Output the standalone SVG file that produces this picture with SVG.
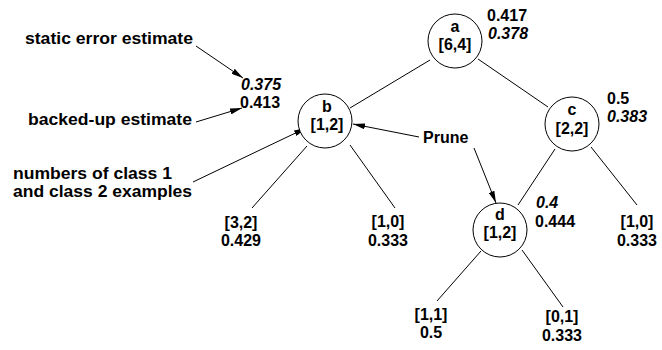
<svg xmlns="http://www.w3.org/2000/svg" width="662" height="350" viewBox="0 0 662 350">
  <defs>
    <marker id="arrow" viewBox="0 0 12 6" refX="12" refY="3" markerWidth="12" markerHeight="6" markerUnits="userSpaceOnUse" orient="auto">
      <path d="M0,0 L12,3 L0,6 Z" fill="#000"/>
    </marker>
  </defs>
  <style>
    text { font-family: "Liberation Sans", Arial, sans-serif; font-size: 16px; font-weight: bold; fill: #000; }
    .mid { text-anchor: middle; }
    .it { font-style: italic; }
    .node circle { fill: #fff; stroke: #000; stroke-width: 1; }
    .edge { stroke: #000; stroke-width: 1; fill: none; }
    .pointer { stroke: #000; stroke-width: 1; fill: none; marker-end: url(#arrow); }
  </style>
  <rect width="662" height="350" fill="#fff"/>

  <!-- tree edges and pointer arrows -->
  <g id="connectors">
    <line class="edge" x1="430" y1="60" x2="350" y2="108"/>
    <line class="edge" x1="478" y1="59" x2="548" y2="107"/>
    <line class="edge" x1="307" y1="146" x2="252" y2="208"/>
    <line class="edge" x1="350" y1="145" x2="395" y2="208"/>
    <line class="edge" x1="555" y1="149" x2="518" y2="205"/>
    <line class="edge" x1="591" y1="147" x2="637" y2="205"/>
    <line class="edge" x1="481" y1="251" x2="437" y2="301"/>
    <line class="edge" x1="522" y1="250" x2="563" y2="307"/>
    <line class="pointer" x1="196" y1="46" x2="243" y2="78"/>
    <line class="pointer" x1="196" y1="122" x2="242" y2="108"/>
    <line class="pointer" x1="193" y1="182" x2="306" y2="128"/>
    <line class="pointer" x1="419" y1="137" x2="353" y2="124"/>
    <line class="pointer" x1="474" y1="148" x2="496" y2="203"/>
  </g>

  <!-- internal nodes -->
  <g id="node-a" class="node">
    <circle cx="455" cy="41" r="27"/>
    <text class="mid" x="455" y="32">a</text>
    <text class="mid" x="455" y="50">[6,4]</text>
    <text x="487" y="21">0.417</text>
    <text class="it" x="488" y="39">0.378</text>
  </g>
  <g id="node-b" class="node">
    <circle cx="325" cy="121" r="27"/>
    <text class="mid" x="327" y="112">b</text>
    <text class="mid" x="327" y="130">[1,2]</text>
    <text class="it" x="241" y="90">0.375</text>
    <text x="240" y="108">0.413</text>
  </g>
  <g id="node-c" class="node">
    <circle cx="572" cy="124" r="27"/>
    <text class="mid" x="572" y="115">c</text>
    <text class="mid" x="572" y="134">[2,2]</text>
    <text x="607" y="104">0.5</text>
    <text class="it" x="607" y="122">0.383</text>
  </g>
  <g id="node-d" class="node">
    <circle cx="500" cy="230" r="27"/>
    <text class="mid" x="500" y="220">d</text>
    <text class="mid" x="500" y="238">[1,2]</text>
    <text class="it" x="536" y="208">0.4</text>
    <text x="535" y="227">0.444</text>
  </g>

  <!-- leaves -->
  <g id="leaf-b1">
    <text class="mid" x="241" y="228">[3,2]</text>
    <text class="mid" x="241" y="246">0.429</text>
  </g>
  <g id="leaf-b2">
    <text class="mid" x="388" y="227">[1,0]</text>
    <text class="mid" x="388" y="246">0.333</text>
  </g>
  <g id="leaf-c2">
    <text class="mid" x="637" y="227">[1,0]</text>
    <text class="mid" x="637" y="246">0.333</text>
  </g>
  <g id="leaf-d1">
    <text class="mid" x="431" y="320">[1,1]</text>
    <text class="mid" x="431" y="338">0.5</text>
  </g>
  <g id="leaf-d2">
    <text class="mid" x="562" y="322">[0,1]</text>
    <text class="mid" x="562" y="341">0.333</text>
  </g>

  <!-- annotations -->
  <g id="label-static">
    <text x="25" y="44" textLength="168" lengthAdjust="spacingAndGlyphs">static error estimate</text>
  </g>
  <g id="label-backed">
    <text x="28" y="125" textLength="164" lengthAdjust="spacingAndGlyphs">backed-up estimate</text>
  </g>
  <g id="label-counts">
    <text x="13" y="179" textLength="159" lengthAdjust="spacingAndGlyphs">numbers of class 1</text>
    <text x="13" y="197" textLength="179" lengthAdjust="spacingAndGlyphs">and class 2 examples</text>
  </g>
  <g id="label-prune">
    <text x="423" y="143">Prune</text>
  </g>
</svg>
